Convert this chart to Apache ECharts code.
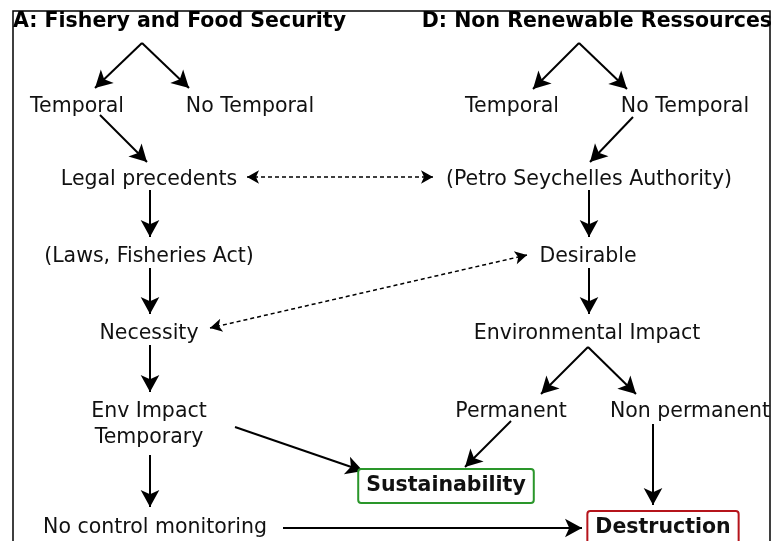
<!DOCTYPE html>
<html>
<head>
<meta charset="utf-8">
<title>Fishery and Non Renewable Ressources</title>
<script src="https://cdn.jsdelivr.net/npm/echarts@6/dist/echarts.min.js"></script>
<style>
  html, body { margin: 0; padding: 0; background: #fff; }
  #main { width: 775px; height: 541px; }
</style>
</head>
<body>
<div id="main"></div>
<script>
// 流程图节点（文字 + 位置）
const nodeNames = [
  'Temporal', 'No Temporal', 'Temporal', 'No Temporal',
  'Legal precedents', '(Petro Seychelles Authority)',
  '(Laws, Fisheries Act)', 'Desirable',
  'Necessity', 'Environmental Impact',
  'Env Impact\nTemporary', 'Permanent', 'Non permanent',
  'Sustainability', 'No control monitoring', 'Destruction'
];
const nodeX = [77, 250, 512, 685, 149, 589, 149, 588, 149, 587, 149, 511, 690, 446, 155, 663];
const nodeY = [104, 104, 104, 104, 177, 177, 254, 254, 331, 331, 422, 409, 409, 486, 525, 528];

// 实线箭头 [起点, 箭头尖]
const solidArrows = [
  [[142, 43], [95, 88]],
  [[142, 43], [189, 88]],
  [[579, 43], [533, 89]],
  [[579, 43], [627, 89]],
  [[100, 115], [147, 162]],
  [[633, 117], [590, 162]],
  [[150, 190], [150, 237]],
  [[589, 190], [589, 237]],
  [[150, 268], [150, 314]],
  [[589, 268], [589, 314]],
  [[150, 345], [150, 392]],
  [[588, 347], [541, 394]],
  [[588, 347], [636, 394]],
  [[235, 427], [363, 471]],
  [[511, 421], [465, 467]],
  [[653, 424], [653, 505]],
  [[150, 455], [150, 507]],
  [[283, 528], [582, 528]]
];
// 虚线双向箭头
const dashedArrows = [
  [[247, 177], [433, 177]],
  [[527, 255], [210, 328]]
];

const FONT = 'DejaVu Sans';
const boxColor = { 'Sustainability': '#2a962a', 'Destruction': '#b5141b' };

let nodeData = nodeNames.map(function (name, i) {
  let item = { name: name, value: [nodeX[i], nodeY[i]] };
  if (boxColor[name]) {
    item.label = {
      fontWeight: 'bold',
      borderColor: boxColor[name],
      borderWidth: 2,
      borderRadius: 2,
      backgroundColor: '#fff',
      padding: [5, 7, 5, 7],
      lineHeight: 22,
      offset: [0, 0]
    };
  }
  return item;
});

let solidData = solidArrows.map(function (a) {
  return { coords: a };
});
let dashedData = dashedArrows.map(function (a) {
  return { coords: a };
});

let myChart = echarts.init(document.getElementById('main'));
myChart.setOption({
  animation: false,
  backgroundColor: '#fff',
  title: [{
    text: 'A: Fishery and Food Security',
    left: 13, top: 11, padding: 0,
    textStyle: { fontFamily: FONT, fontSize: 20.5, fontWeight: 'bold', color: '#000' }
  }, {
    text: 'D: Non Renewable Ressources',
    right: 3, top: 11, padding: 0,
    textStyle: { fontFamily: FONT, fontSize: 20.5, fontWeight: 'bold', color: '#000' }
  }],
  // 外框
  graphic: [{
    type: 'rect',
    shape: { x: 13, y: 11, width: 757, height: 560 },
    style: { fill: 'none', stroke: '#000', lineWidth: 1.5 },
    z: 1
  }],
  grid: { left: 13, top: 11, width: 757, height: 530 },
  xAxis: { type: 'value', min: 13, max: 770, show: false },
  yAxis: { type: 'value', min: 11, max: 541, inverse: true, show: false },
  series: [{
    type: 'lines',
    coordinateSystem: 'cartesian2d',
    symbol: ['none', 'arrow'],
    symbolSize: [0, [14, 17]],
    lineStyle: { color: '#000', width: 2, opacity: 1, curveness: 0 },
    data: solidData,
    z: 3
  }, {
    type: 'lines',
    coordinateSystem: 'cartesian2d',
    symbol: ['arrow', 'arrow'],
    symbolSize: [[10, 12], [10, 12]],
    lineStyle: { color: '#000', width: 1.5, type: [4, 3], opacity: 1, curveness: 0 },
    data: dashedData,
    z: 3
  }, {
    type: 'scatter',
    symbolSize: 1,
    itemStyle: { color: 'rgba(0,0,0,0)', opacity: 1 },
    label: {
      show: true,
      position: 'inside',
      formatter: '{b}',
      fontFamily: FONT,
      fontSize: 20.5,
      lineHeight: 26,
      color: '#111',
      opacity: 1,
      offset: [0, 3]
    },
    data: nodeData,
    z: 4
  }]
});
</script>
</body>
</html>
